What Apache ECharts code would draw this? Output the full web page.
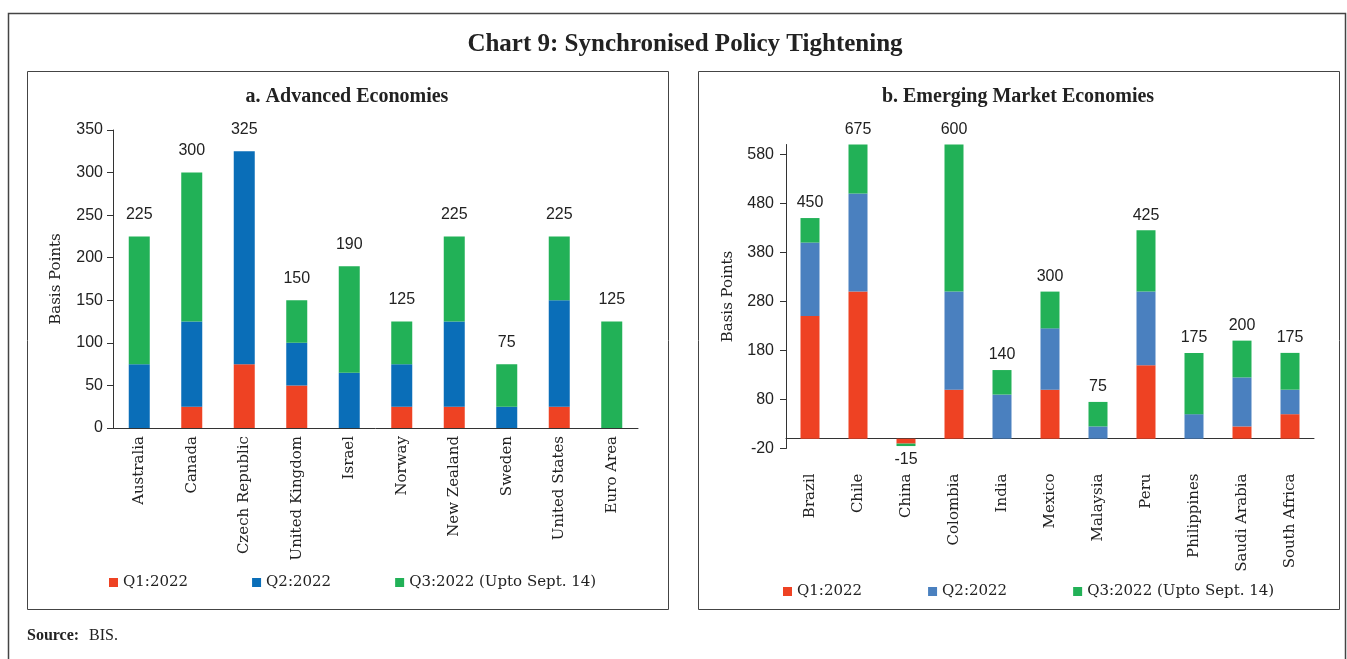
<!DOCTYPE html>
<html>
<head>
<meta charset="utf-8">
<script src="https://cdn.jsdelivr.net/npm/echarts@6/dist/echarts.min.js"></script>
<style>
  html, body { margin: 0; padding: 0; background: #fff; }
  #chart { width: 1347px; height: 659px; }
</style>
</head>
<body>
<div id="chart"></div>
<script>
// a. Advanced Economies (basis points)
const aeCountries = ['Australia', 'Canada', 'Czech Republic', 'United Kingdom', 'Israel', 'Norway', 'New Zealand', 'Sweden', 'United States', 'Euro Area'];
const aeQ1 = [0, 25, 75, 50, 0, 25, 25, 0, 25, 0];
const aeQ2 = [75, 100, 250, 50, 65, 50, 100, 25, 125, 0];
const aeQ3 = [150, 175, 0, 50, 125, 50, 100, 50, 75, 125];
const aeTotal = [225, 300, 325, 150, 190, 125, 225, 75, 225, 125];

// b. Emerging Market Economies (basis points)
const emeCountries = ['Brazil', 'Chile', 'China', 'Colombia', 'India', 'Mexico', 'Malaysia', 'Peru', 'Philippines', 'Saudi Arabia', 'South Africa'];
const emeQ1 = [250, 300, -10, 100, 0, 100, 0, 150, 0, 25, 50];
const emeQ2 = [150, 200, 0, 200, 90, 125, 25, 150, 50, 100, 50];
const emeQ3 = [50, 175, -5, 300, 50, 75, 50, 125, 125, 75, 75];
const emeTotal = [450, 675, -15, 600, 140, 300, 75, 425, 175, 200, 175];
const emeTicks = [-20, 80, 180, 280, 380, 480, 580];

const names = ['Q1:2022', 'Q2:2022', 'Q3:2022 (Upto Sept. 14)'];
const aeColors = ['#EE4223', '#0A6EB8', '#22B157'];
const emeColors = ['#EE4223', '#4A80BF', '#22B157'];

const serif = 'DejaVu Serif';
const sans = 'Liberation Sans';

var chartDom = document.getElementById('chart');
var myChart = echarts.init(chartDom);

function stackSeries(grid, values, colors, barWidth) {
  return values.map((d, i) => ({
    name: names[i],
    type: 'bar',
    stack: 'q' + grid,
    xAxisIndex: grid === 0 ? 0 : 1,
    yAxisIndex: grid,
    barWidth: barWidth,
    barGap: '-100%',
    itemStyle: { color: colors[i] },
    data: d
  }));
}

// invisible bar on top of each stack, only there to carry the total label
function totalSeries(grid, totals, barWidth, dist) {
  return {
    name: 'total' + grid,
    type: 'bar',
    xAxisIndex: grid === 0 ? 0 : 1,
    yAxisIndex: grid,
    barWidth: barWidth,
    barGap: '-100%',
    itemStyle: { color: 'rgba(0,0,0,0)' },
    label: {
      show: true,
      position: 'top',
      distance: dist,
      color: '#222',
      fontFamily: sans,
      fontSize: 16
    },
    data: totals.map(v => v < 0 ? { value: v, label: { position: 'bottom', distance: 6 } } : v),
    z: 5
  };
}

var option = {
  animation: false,
  graphic: [
    { type: 'rect', shape: { x: 8.5, y: 13.5, width: 1337, height: 700 }, style: { fill: 'none', stroke: '#444', lineWidth: 1.5 } },
    { type: 'rect', shape: { x: 27.5, y: 71.5, width: 641, height: 538 }, style: { fill: 'none', stroke: '#444', lineWidth: 1 } },
    { type: 'rect', shape: { x: 698.5, y: 71.5, width: 641, height: 538 }, style: { fill: 'none', stroke: '#444', lineWidth: 1 } },
    { type: 'text', style: { text: 'Chart 9: Synchronised Policy Tightening', x: 685, y: 45, textAlign: 'center', textVerticalAlign: 'middle', font: 'bold 25px "Liberation Serif"', fill: '#222' } },
    { type: 'text', style: { text: 'a. Advanced Economies', x: 347, y: 97, textAlign: 'center', textVerticalAlign: 'middle', font: 'bold 20px "Liberation Serif"', fill: '#222' } },
    { type: 'text', style: { text: 'b. Emerging Market Economies', x: 1018, y: 97, textAlign: 'center', textVerticalAlign: 'middle', font: 'bold 20px "Liberation Serif"', fill: '#222' } },
    { type: 'text', style: { text: 'Source:', x: 27, y: 636, textVerticalAlign: 'middle', font: 'bold 16px "Liberation Serif"', fill: '#222' } },
    { type: 'text', style: { text: 'BIS.', x: 89, y: 636, textVerticalAlign: 'middle', font: '16px "Liberation Serif"', fill: '#222' } }
  ],
  legend: [
    {
      left: 104, top: 570,
      itemWidth: 9, itemHeight: 9, itemGap: 64,
      icon: 'rect', selectedMode: false,
      textStyle: { fontFamily: serif, fontSize: 15, color: '#222' },
      data: names.map((n, i) => ({ name: n, itemStyle: { color: aeColors[i] } }))
    },
    {
      left: 778, top: 579,
      itemWidth: 9, itemHeight: 9, itemGap: 66,
      icon: 'rect', selectedMode: false,
      textStyle: { fontFamily: serif, fontSize: 15, color: '#222' },
      data: names.map((n, i) => ({ name: n, itemStyle: { color: emeColors[i] } }))
    }
  ],
  grid: [
    { left: 113, top: 130, width: 525, height: 298 },
    { left: 786, top: 144.5, width: 528, height: 304 }
  ],
  xAxis: [
    {
      type: 'category', gridIndex: 0, data: aeCountries,
      axisLine: { lineStyle: { color: '#333' } },
      axisTick: { length: 6, lineStyle: { color: '#333' } },
      axisLabel: { rotate: 90, margin: 8, interval: 0, color: '#222', fontFamily: serif, fontSize: 15 }
    },
    {
      type: 'category', gridIndex: 1, data: emeCountries, position: 'bottom',
      axisLine: { onZero: true, lineStyle: { color: '#333' } },
      axisTick: { length: 6, lineStyle: { color: '#333' } },
      axisLabel: { show: false }
    },
    {
      type: 'category', gridIndex: 1, data: emeCountries, position: 'bottom',
      axisLine: { show: false, onZero: false },
      axisTick: { show: false },
      axisLabel: { rotate: 90, margin: 25, interval: 0, color: '#222', fontFamily: serif, fontSize: 15 }
    }
  ],
  yAxis: [
    {
      type: 'value', gridIndex: 0, min: 0, max: 350, interval: 50,
      name: 'Basis Points', nameLocation: 'middle', nameGap: 49,
      nameTextStyle: { fontFamily: serif, fontSize: 15, color: '#222' },
      axisLine: { show: true, lineStyle: { color: '#333' } },
      axisTick: { show: true, length: 6, lineStyle: { color: '#333' } },
      splitLine: { show: false },
      axisLabel: { margin: 10, color: '#222', fontFamily: sans, fontSize: 16 }
    },
    {
      type: 'value', gridIndex: 1, min: -20, max: 600, interval: 100,
      name: 'Basis Points', nameLocation: 'middle', nameGap: 50,
      nameTextStyle: { fontFamily: serif, fontSize: 15, color: '#222' },
      axisLine: { show: true, onZero: false, lineStyle: { color: '#333' } },
      axisTick: { show: true, length: 6, customValues: emeTicks, lineStyle: { color: '#333' } },
      splitLine: { show: false },
      axisLabel: { margin: 12, customValues: emeTicks, color: '#222', fontFamily: sans, fontSize: 16 }
    }
  ],
  series: [
    ...stackSeries(0, [aeQ1, aeQ2, aeQ3], aeColors, 21),
    totalSeries(0, aeTotal, 21, 14),
    ...stackSeries(1, [emeQ1, emeQ2, emeQ3], emeColors, 19),
    totalSeries(1, emeTotal, 19, 7)
  ]
};

option && myChart.setOption(option);
</script>
</body>
</html>
